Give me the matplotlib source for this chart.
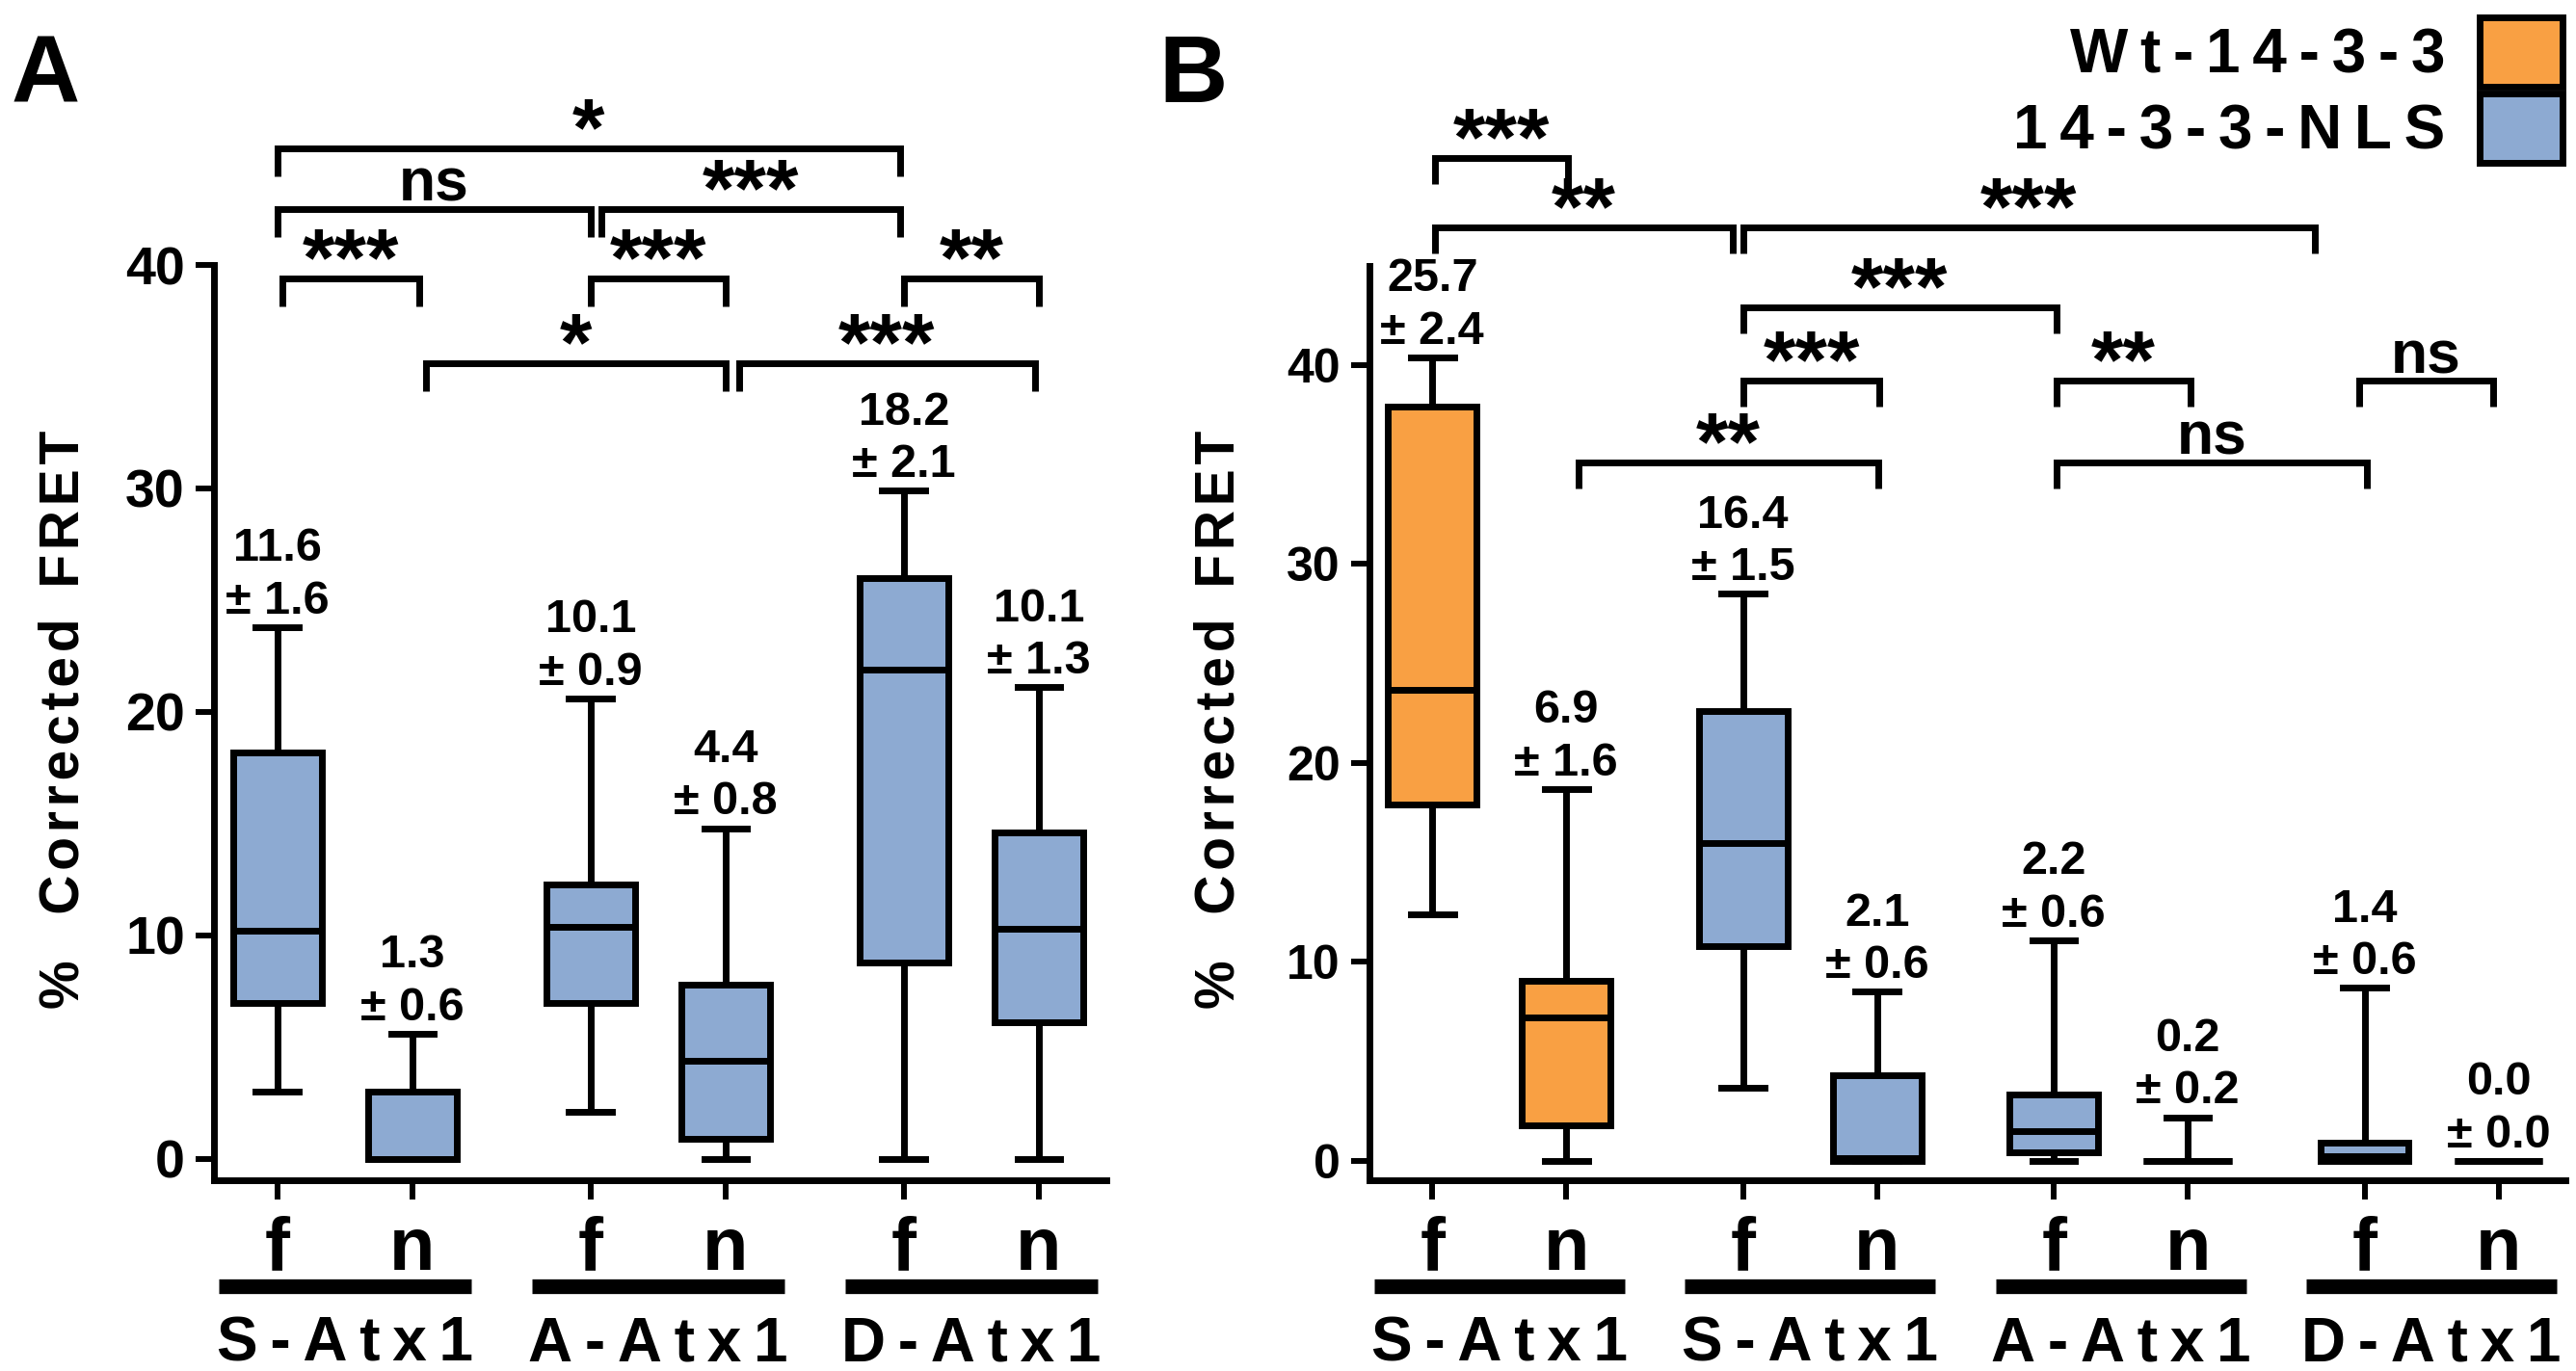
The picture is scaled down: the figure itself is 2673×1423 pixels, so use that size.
import matplotlib
matplotlib.use("Agg")
import matplotlib.pyplot as plt
import matplotlib.patches as mpatches
from matplotlib.transforms import ScaledTranslation

plt.rcParams['font.family'] = ['Liberation Sans', 'DejaVu Sans']
plt.rcParams['font.weight'] = 'bold'

# ---------------- data ----------------
cells = ['f', 'n']

# panel A : 14-3-3-NLS with the three Atx1 variants (f, n for each)
groups_a = ['S-Atx1', 'A-Atx1', 'D-Atx1']
a_whislo = [3.0, 0.0, 2.1, 0.0, 0.0, 0.0]
a_q1 = [7.0, 0.0, 7.0, 0.9, 8.8, 6.1]
a_med = [10.2, 0.0, 10.4, 4.4, 21.9, 10.3]
a_q3 = [18.2, 3.0, 12.3, 7.8, 26.0, 14.6]
a_whishi = [23.8, 5.6, 20.6, 14.8, 29.9, 21.1]
a_mean = [11.6, 1.3, 10.1, 4.4, 18.2, 10.1]
a_sem = [1.6, 0.6, 0.9, 0.8, 2.1, 1.3]
a_sig = [(0, 4, '*'), (0, 2, 'ns'), (2, 4, '***'), (0, 1, '***'),
         (2, 3, '***'), (4, 5, '**'), (1, 3, '*'), (3, 5, '***')]
a_sig_y = [45.2, 42.5, 42.5, 39.4, 39.4, 39.4, 35.6, 35.6]

# panel B : Wt-14-3-3 vs 14-3-3-NLS
groups_b = ['S-Atx1', 'S-Atx1', 'A-Atx1', 'D-Atx1']
constructs_b = ['Wt-14-3-3', '14-3-3-NLS', '14-3-3-NLS', '14-3-3-NLS']
b_whislo = [12.4, 0.0, 3.7, 0.0, 0.0, 0.0, 0.0, 0.0]
b_q1 = [17.9, 1.8, 10.8, 0.0, 0.45, 0.0, 0.0, 0.0]
b_med = [23.7, 7.2, 16.0, 0.15, 1.5, 0.0, 0.25, 0.0]
b_q3 = [37.9, 9.05, 22.6, 4.3, 3.35, 0.0, 0.9, 0.0]
b_whishi = [40.4, 18.7, 28.5, 8.5, 11.1, 2.2, 8.7, 0.0]
b_mean = [25.7, 6.9, 16.4, 2.1, 2.2, 0.2, 1.4, 0.0]
b_sem = [2.4, 1.6, 1.5, 0.6, 0.6, 0.2, 0.6, 0.0]
b_sig = [(0, 1, '***'), (0, 2, '**'), (2, 6, '***'), (2, 4, '***'),
         (2, 3, '***'), (4, 5, '**'), (6, 7, 'ns'), (1, 3, '**'), (4, 6, 'ns')]
b_sig_y = [50.4, 46.9, 46.9, 42.9, 39.2, 39.2, 39.2, 35.1, 35.1]

# ---------------- style ----------------
orange = '#F9A043'
blue = '#8DAAD2'
LW = 5
THIN = '\u2009'
HAIR = '\u200a'


def spaced(s, sep=THIN):
    # wide letter spacing as in the original artwork
    return sep.join(s)


# small nudges (data units) so that brackets sharing a box do not touch
a_nudge = [(0, -0.03), (0, 0.0), (0.08, -0.03), (0.04, 0.05),
           (0, 0), (0, 0), (0.1, 0), (0.1, -0.03)]
b_nudge = [(0.02, 0.01), (0.02, -0.08), (0, -0.37), (0, 0.02),
           (0, 0.02), (0.02, 0.02), (-0.04, -0.04), (0.09, 0.01), (0.02, 0.02)]

fig = plt.figure(figsize=(26.73, 14.23), dpi=100)
ax_a = fig.add_axes([0.08305, 0.13914, 0.34643, 0.79803])
ax_b = fig.add_axes([0.53161, 0.13914, 0.46427, 0.81222])


def draw_panel(ax, groups, whislo, q1, med, q3, whishi, mean, sem, colors,
               sig, sig_y, nudge, ylim, spine_top, leg, tick_fs):
    n_groups = len(groups)
    pos = []
    for g in range(n_groups):
        pos += [g * 2.32, g * 2.32 + 1]
    stats = []
    for i in range(len(pos)):
        stats.append(dict(whislo=whislo[i], q1=q1[i], med=med[i], q3=q3[i],
                          whishi=whishi[i], fliers=[]))
    bp = ax.bxp(stats, positions=pos, widths=0.66, capwidths=0.32,
                patch_artist=True, showfliers=False, manage_ticks=False,
                boxprops=dict(linewidth=LW, edgecolor='k'),
                whiskerprops=dict(linewidth=LW, color='k', solid_capstyle='butt'),
                capprops=dict(linewidth=LW, color='k'),
                medianprops=dict(linewidth=LW, color='k', solid_capstyle='butt'))
    for patch, c in zip(bp['boxes'], colors):
        patch.set_facecolor(c)
        patch.set_joinstyle('miter')

    # mean +- sem above each whisker
    for i, p in enumerate(pos):
        ax.annotate(f'{mean[i]:.1f}\n± {sem[i]:.1f}', xy=(p, whishi[i]),
                    xytext=(0, 3), textcoords='offset points',
                    ha='center', va='bottom', fontsize=35, linespacing=1.27)

    # significance brackets
    for (i, j, lab), y, (dl, dr) in zip(sig, sig_y, nudge):
        x1, x2 = pos[i] + dl, pos[j] + dr
        ax.plot([x1, x1, x2, x2], [y - leg, y, y, y - leg], color='k', lw=LW,
                clip_on=False, solid_joinstyle='miter', solid_capstyle='butt')
        if '*' in lab:
            ax.annotate(lab, xy=((x1 + x2) / 2, y), xytext=(0, -5),
                        textcoords='offset points', ha='center', va='baseline',
                        fontsize=62)
        else:
            ax.annotate(lab, xy=((x1 + x2) / 2, y), xytext=(0, 6),
                        textcoords='offset points', ha='center', va='baseline',
                        fontsize=45)

    ax.set_xlim(pos[0] - 0.47, pos[-1] + 0.5)
    ax.set_ylim(*ylim)
    ax.set_xticks(pos, labels=cells * n_groups, fontsize=56)
    ax.set_yticks([0, 10, 20, 30, 40])
    ax.tick_params(axis='y', labelsize=tick_fs, length=13.7, width=4.3, pad=8)
    ax.tick_params(axis='x', length=14.4, width=4.3, pad=11.5)
    for side in ['top', 'right']:
        ax.spines[side].set_visible(False)
    for side in ['left', 'bottom']:
        ax.spines[side].set_linewidth(LW)
    ax.spines['left'].set_bounds(ylim[0], spine_top)

    # group bars and names under the f / n labels
    bar_tr = ax.get_xaxis_transform() + ScaledTranslation(0, -1.10, fig.dpi_scale_trans)
    txt_tr = ax.get_xaxis_transform() + ScaledTranslation(0, -1.87, fig.dpi_scale_trans)
    for g, name in enumerate(groups):
        c = (pos[2 * g] + pos[2 * g + 1]) / 2
        ax.plot([c - 0.935, c + 0.935], [0, 0], color='k', lw=11,
                solid_capstyle='butt', transform=bar_tr, clip_on=False)
        ax.text(c, 0, spaced(name), transform=txt_tr, ha='center',
                va='baseline', fontsize=46)


ylabel = '%   ' + spaced('Corrected', HAIR) + '  ' + spaced('FRET', HAIR)

draw_panel(ax_a, groups_a, a_whislo, a_q1, a_med, a_q3, a_whishi, a_mean, a_sem,
           [blue] * 6, a_sig, a_sig_y, a_nudge, (-0.95, 48), 40, 1.25, 40)
ax_a.set_ylabel(ylabel, fontsize=41, fontweight='bold', va='center')
ax_a.yaxis.set_label_coords(-0.168, 0.421)

colors_b = []
for name in constructs_b:
    c = orange if name == 'Wt-14-3-3' else blue
    colors_b += [c, c]
draw_panel(ax_b, groups_b, b_whislo, b_q1, b_med, b_q3, b_whishi, b_mean, b_sem,
           colors_b, b_sig, b_sig_y, b_nudge, (-0.97, 55), 45, 1.3, 36)
ax_b.set_ylabel(ylabel, fontsize=41, fontweight='bold', va='center')
ax_b.yaxis.set_label_coords(-0.125, 0.414)

# legend (text left of the colour key)
handles = [mpatches.Patch(facecolor=orange, edgecolor='k', linewidth=LW),
           mpatches.Patch(facecolor=blue, edgecolor='k', linewidth=LW)]
fig.legend(handles, [spaced('Wt-14-3-3'), spaced('14-3-3-NLS')],
           loc='upper right', bbox_to_anchor=(2659 / 2673, 1 - 18 / 1423),
           markerfirst=False, frameon=False, fontsize=46,
           handlelength=1.35, handleheight=1.35, handletextpad=0.55,
           labelspacing=0.12, borderpad=0, borderaxespad=0)

# panel letters
fig.text(12 / 2673, 1 - 106 / 1423, 'A', fontsize=71, va='baseline')
fig.text(1202 / 2673, 1 - 106 / 1423, 'B', fontsize=71, va='baseline')

fig.savefig('out.png', dpi=100)
